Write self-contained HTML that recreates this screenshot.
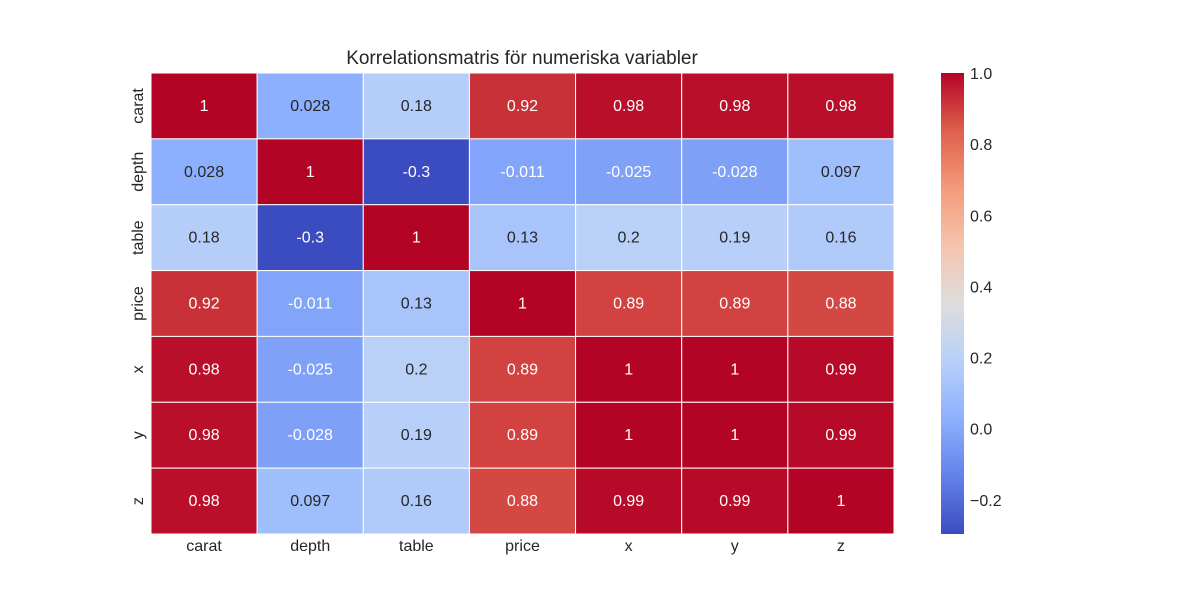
<!DOCTYPE html>
<html><head><meta charset="utf-8"><style>
body{margin:0;background:#fff;}
svg text{font-family:"Liberation Sans",Arial,sans-serif;}
</style></head><body>
<svg id="chart" width="1200" height="600" xmlns="http://www.w3.org/2000/svg">
<rect width="1200" height="600" fill="#fff"/>
<text x="522" y="64" text-anchor="middle" font-size="19" fill="#262626">Korrelationsmatris för numeriska variabler</text>
<defs><linearGradient id="cbgrad" x1="0" y1="1" x2="0" y2="0"></linearGradient></defs>
<g id="cells"></g>
<g id="labels"></g>
<rect x="941" y="73" width="23" height="461" fill="url(#cbgrad)"/>
<g id="cbticks"></g>
</svg>
<script>
const categories = ["carat","depth","table","price","x","y","z"];
const matrix = [
 [1,0.028,0.18,0.92,0.98,0.98,0.98],
 [0.028,1,-0.296,-0.011,-0.025,-0.028,0.097],
 [0.18,-0.296,1,0.13,0.2,0.19,0.16],
 [0.92,-0.011,0.13,1,0.89,0.89,0.88],
 [0.98,-0.025,0.2,0.89,1,1,0.99],
 [0.98,-0.028,0.19,0.89,1,1,0.99],
 [0.98,0.097,0.16,0.88,0.99,0.99,1]
];
const labelsText = [
 ["1","0.028","0.18","0.92","0.98","0.98","0.98"],
 ["0.028","1","-0.3","-0.011","-0.025","-0.028","0.097"],
 ["0.18","-0.3","1","0.13","0.2","0.19","0.16"],
 ["0.92","-0.011","0.13","1","0.89","0.89","0.88"],
 ["0.98","-0.025","0.2","0.89","1","1","0.99"],
 ["0.98","-0.028","0.19","0.89","1","1","0.99"],
 ["0.98","0.097","0.16","0.88","0.99","0.99","1"]
];
const cbTickValues = [-0.2,0,0.2,0.4,0.6,0.8,1.0];
const cbTickLabels = ["\u22120.2","0.0","0.2","0.4","0.6","0.8","1.0"];
const vmin = -0.296, vmax = 1.0;

const NS="http://www.w3.org/2000/svg";
const L=151,T=73,R=894,B=534;
const cw=(R-L)/categories.length, ch=(B-T)/categories.length;
const anchors=[[59,76,192],[98,130,234],[141,176,254],[184,208,249],[221,221,221],[245,196,173],[244,154,123],[222,96,77],[180,4,38]];
function cmap(t){t=Math.max(0,Math.min(1,t));const p=t*8,i=Math.min(7,Math.floor(p)),f=p-i;
 return anchors[i].map((a,k)=>Math.round(a+(anchors[i+1][k]-a)*f));}
function norm(v){return (v-vmin)/(vmax-vmin);}
function yCb(v){return B-(v-vmin)/(vmax-vmin)*(B-T);}
function lum(c){const s=c.map(x=>{x/=255;return x<=0.03928?x/12.92:Math.pow((x+0.055)/1.055,2.4);});return 0.2126*s[0]+0.7152*s[1]+0.0722*s[2];}
function mk(tag,attrs,parent){const e=document.createElementNS(NS,tag);for(const k in attrs)e.setAttribute(k,attrs[k]);parent.appendChild(e);return e;}

const cells=document.getElementById('cells'), labs=document.getElementById('labels');
for(let r=0;r<categories.length;r++){for(let c=0;c<categories.length;c++){
 const col=cmap(norm(matrix[r][c]));
 const rect=mk('rect',{x:L+c*cw,y:T+r*ch,width:cw,height:ch,fill:`rgb(${col})`,stroke:'#fff','stroke-width':1},cells);
 
 
 const t=mk('text',{x:L+(c+0.5)*cw,y:T+(r+0.5)*ch+5,'text-anchor':'middle','font-size':16,fill:lum(col)>0.408?'#262626':'#fff'},labs);
 t.textContent=labelsText[r][c];
 
 
}}
categories.forEach((n,i)=>{
 const tx=mk('text',{x:L+(i+0.5)*cw,y:551,'text-anchor':'middle','font-size':16,fill:'#262626'},labs);
 tx.textContent=n;
 
 
 const yy=T+(i+0.5)*ch;
 const ty=mk('text',{x:0,y:0,'text-anchor':'middle','font-size':16,fill:'#262626',transform:`translate(143,${yy}) rotate(-90)`},labs);
 ty.textContent=n;
 
 
});
const g=document.getElementById('cbgrad');
for(let i=0;i<=16;i++){const t=i/16;mk('stop',{offset:t,'stop-color':`rgb(${cmap(t)})`},g);}
const cbt=document.getElementById('cbticks');
cbTickValues.forEach((v,i)=>{
 const t=mk('text',{x:970,y:yCb(v)+6,'font-size':16,fill:'#262626'},cbt);
 t.textContent=cbTickLabels[i];
 
 
});
</script>
</body></html>
